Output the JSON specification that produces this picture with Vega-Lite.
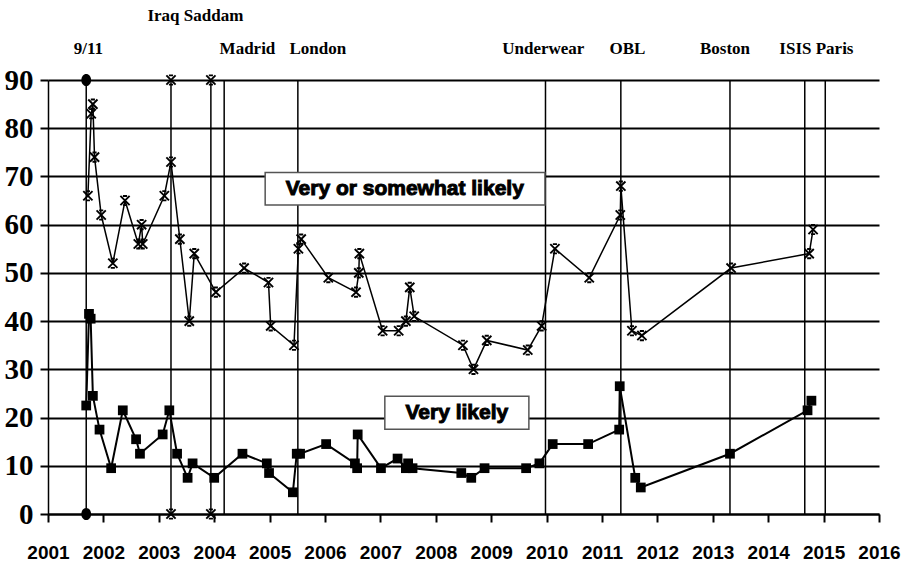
{
  "$schema": "https://vega.github.io/schema/vega-lite/v6.json",
  "width": 831,
  "height": 434,
  "autosize": {"type": "none"},
  "padding": {"left": 48, "top": 80, "right": 23, "bottom": 61},
  "background": "white",
  "config": {"view": {"stroke": null}},
  "datasets": {
    "somewhat": [
      {"seq": 1, "date": 2001.72, "value": 66},
      {"seq": 2, "date": 2001.78, "value": 83},
      {"seq": 3, "date": 2001.81, "value": 85},
      {"seq": 4, "date": 2001.84, "value": 74},
      {"seq": 5, "date": 2001.96, "value": 62},
      {"seq": 6, "date": 2002.17, "value": 52},
      {"seq": 7, "date": 2002.39, "value": 65},
      {"seq": 8, "date": 2002.63, "value": 56},
      {"seq": 9, "date": 2002.69, "value": 60},
      {"seq": 10, "date": 2002.71, "value": 56},
      {"seq": 11, "date": 2003.10, "value": 66},
      {"seq": 12, "date": 2003.22, "value": 73},
      {"seq": 13, "date": 2003.38, "value": 57},
      {"seq": 14, "date": 2003.55, "value": 40},
      {"seq": 15, "date": 2003.64, "value": 54},
      {"seq": 16, "date": 2004.03, "value": 46},
      {"seq": 17, "date": 2004.54, "value": 51},
      {"seq": 18, "date": 2004.98, "value": 48},
      {"seq": 19, "date": 2005.02, "value": 39},
      {"seq": 20, "date": 2005.44, "value": 35},
      {"seq": 21, "date": 2005.52, "value": 55},
      {"seq": 22, "date": 2005.57, "value": 57},
      {"seq": 23, "date": 2006.06, "value": 49},
      {"seq": 24, "date": 2006.56, "value": 46},
      {"seq": 25, "date": 2006.61, "value": 50},
      {"seq": 26, "date": 2006.62, "value": 54},
      {"seq": 27, "date": 2007.04, "value": 38},
      {"seq": 28, "date": 2007.33, "value": 38},
      {"seq": 29, "date": 2007.46, "value": 40},
      {"seq": 30, "date": 2007.53, "value": 47},
      {"seq": 31, "date": 2007.61, "value": 41},
      {"seq": 32, "date": 2008.49, "value": 35},
      {"seq": 33, "date": 2008.68, "value": 30},
      {"seq": 34, "date": 2008.92, "value": 36},
      {"seq": 35, "date": 2009.66, "value": 34},
      {"seq": 36, "date": 2009.91, "value": 39},
      {"seq": 37, "date": 2010.15, "value": 55},
      {"seq": 38, "date": 2010.77, "value": 49},
      {"seq": 39, "date": 2011.33, "value": 62},
      {"seq": 40, "date": 2011.34, "value": 68},
      {"seq": 41, "date": 2011.54, "value": 38},
      {"seq": 42, "date": 2011.72, "value": 37},
      {"seq": 43, "date": 2013.33, "value": 51},
      {"seq": 44, "date": 2014.74, "value": 54},
      {"seq": 45, "date": 2014.81, "value": 59}
    ],
    "very": [
      {"seq": 1, "date": 2001.69, "value": 22.5},
      {"seq": 2, "date": 2001.74, "value": 41.5},
      {"seq": 3, "date": 2001.77, "value": 40.5},
      {"seq": 4, "date": 2001.81, "value": 24.5},
      {"seq": 5, "date": 2001.93, "value": 17.5},
      {"seq": 6, "date": 2002.14, "value": 9.5},
      {"seq": 7, "date": 2002.35, "value": 21.5},
      {"seq": 8, "date": 2002.59, "value": 15.5},
      {"seq": 9, "date": 2002.66, "value": 12.5},
      {"seq": 10, "date": 2003.07, "value": 16.5},
      {"seq": 11, "date": 2003.19, "value": 21.5},
      {"seq": 12, "date": 2003.33, "value": 12.5},
      {"seq": 13, "date": 2003.52, "value": 7.5},
      {"seq": 14, "date": 2003.61, "value": 10.5},
      {"seq": 15, "date": 2004.00, "value": 7.5},
      {"seq": 16, "date": 2004.51, "value": 12.5},
      {"seq": 17, "date": 2004.95, "value": 10.5},
      {"seq": 18, "date": 2004.99, "value": 8.5},
      {"seq": 19, "date": 2005.42, "value": 4.5},
      {"seq": 20, "date": 2005.49, "value": 12.5},
      {"seq": 21, "date": 2005.55, "value": 12.5},
      {"seq": 22, "date": 2006.02, "value": 14.5},
      {"seq": 23, "date": 2006.54, "value": 10.5},
      {"seq": 24, "date": 2006.58, "value": 9.5},
      {"seq": 25, "date": 2006.59, "value": 16.5},
      {"seq": 26, "date": 2007.01, "value": 9.5},
      {"seq": 27, "date": 2007.31, "value": 11.5},
      {"seq": 28, "date": 2007.46, "value": 9.5},
      {"seq": 29, "date": 2007.50, "value": 10.5},
      {"seq": 30, "date": 2007.58, "value": 9.5},
      {"seq": 31, "date": 2008.46, "value": 8.5},
      {"seq": 32, "date": 2008.64, "value": 7.5},
      {"seq": 33, "date": 2008.88, "value": 9.5},
      {"seq": 34, "date": 2009.63, "value": 9.5},
      {"seq": 35, "date": 2009.87, "value": 10.5},
      {"seq": 36, "date": 2010.11, "value": 14.5},
      {"seq": 37, "date": 2010.75, "value": 14.5},
      {"seq": 38, "date": 2011.31, "value": 17.5},
      {"seq": 39, "date": 2011.32, "value": 26.5},
      {"seq": 40, "date": 2011.60, "value": 7.5},
      {"seq": 41, "date": 2011.70, "value": 5.5},
      {"seq": 42, "date": 2013.31, "value": 12.5},
      {"seq": 43, "date": 2014.71, "value": 21.5},
      {"seq": 44, "date": 2014.78, "value": 23.5}
    ],
    "events": [
      {"event": "9/11", "date": 2001.69},
      {"event": "Iraq", "date": 2003.22},
      {"event": "Saddam", "date": 2003.94},
      {"event": "Madrid", "date": 2004.18},
      {"event": "London", "date": 2005.51},
      {"event": "Underwear", "date": 2009.98},
      {"event": "OBL", "date": 2011.34},
      {"event": "Boston", "date": 2013.31},
      {"event": "ISIS", "date": 2014.66},
      {"event": "Paris", "date": 2015.03}
    ],
    "eventMarks": [
      {"kind": "circle", "date": 2001.69, "value": 90},
      {"kind": "circle", "date": 2001.69, "value": 0},
      {"kind": "star", "date": 2003.22, "value": 90},
      {"kind": "star", "date": 2003.22, "value": 0},
      {"kind": "star", "date": 2003.94, "value": 90},
      {"kind": "star", "date": 2003.94, "value": 0}
    ],
    "labels": [
      {"text": "Iraq Saddam", "date": 2003.66, "value": 102.3},
      {"text": "9/11", "date": 2001.73, "value": 95.3},
      {"text": "Madrid", "date": 2004.60, "value": 95.3},
      {"text": "London", "date": 2005.87, "value": 95.3},
      {"text": "Underwear", "date": 2009.94, "value": 95.3},
      {"text": "OBL", "date": 2011.46, "value": 95.3},
      {"text": "Boston", "date": 2013.22, "value": 95.3},
      {"text": "ISIS Paris", "date": 2014.87, "value": 95.3}
    ],
    "boxes": [
      {"text": "Very or somewhat likely", "x1": 2004.92, "x2": 2009.97, "y1": 64.1, "y2": 70.8, "tx": 2007.44, "ty": 67.4},
      {"text": "Very likely", "x1": 2007.08, "x2": 2009.68, "y1": 17.6, "y2": 24.4, "tx": 2008.38, "ty": 21.0}
    ]
  },
  "layer": [
    {
      "data": {"name": "somewhat"},
      "mark": {"type": "line", "color": "black", "strokeWidth": 1.5},
      "encoding": {
        "x": {
          "field": "date", "type": "quantitative",
          "scale": {"domain": [2001, 2016], "nice": false, "zero": false},
          "axis": {
            "title": null, "values": [2001, 2002, 2003, 2004, 2005, 2006, 2007, 2008, 2009, 2010, 2011, 2012, 2013, 2014, 2015, 2016],
            "format": "d", "grid": false,
            "domainColor": "black", "domainWidth": 2,
            "tickColor": "black", "tickWidth": 2, "tickSize": 8,
            "labelFont": "Liberation Sans, Arial, sans-serif",
            "labelFontWeight": "bold", "labelFontSize": 19, "labelColor": "black",
            "labelPadding": 21, "labelFlush": false, "labelOverlap": false
          }
        },
        "y": {
          "field": "value", "type": "quantitative",
          "scale": {"domain": [0, 90], "nice": false, "zero": false},
          "axis": {
            "title": null, "values": [0, 10, 20, 30, 40, 50, 60, 70, 80, 90],
            "grid": true, "gridColor": "black", "gridWidth": 2, "gridOpacity": 1,
            "domainColor": "black", "domainWidth": 1.5,
            "tickColor": "black", "tickWidth": 2, "tickSize": 8,
            "labelFont": "Liberation Serif, Times New Roman, serif",
            "labelFontWeight": "bold", "labelFontSize": 29, "labelColor": "black",
            "labelPadding": 7, "labelFlush": false, "labelOverlap": false
          }
        },
        "order": {"field": "seq"}
      }
    },
    {
      "data": {"name": "events"},
      "mark": {"type": "rule", "color": "black", "strokeWidth": 1.5},
      "encoding": {
        "x": {"field": "date", "type": "quantitative", "scale": {"domain": [2001, 2016], "nice": false, "zero": false}},
        "y": {"datum": 0, "type": "quantitative", "scale": {"domain": [0, 90], "nice": false, "zero": false}},
        "y2": {"datum": 90}
      }
    },
    {
      "data": {"name": "somewhat"},
      "mark": {"type": "point", "shape": "M-1,-1L1,1M-1,1L1,-1M-0.45,-1L0.45,-1M-0.45,1L0.45,1", "filled": false, "stroke": "black", "strokeWidth": 1.9, "size": 85, "opacity": 1},
      "encoding": {
        "x": {"field": "date", "type": "quantitative", "scale": {"domain": [2001, 2016], "nice": false, "zero": false}},
        "y": {"field": "value", "type": "quantitative", "scale": {"domain": [0, 90], "nice": false, "zero": false}}
      }
    },
    {
      "data": {"name": "very"},
      "mark": {"type": "line", "color": "black", "strokeWidth": 2},
      "encoding": {
        "x": {"field": "date", "type": "quantitative", "scale": {"domain": [2001, 2016], "nice": false, "zero": false}},
        "y": {"field": "value", "type": "quantitative", "scale": {"domain": [0, 90], "nice": false, "zero": false}},
        "order": {"field": "seq"}
      }
    },
    {
      "data": {"name": "very"},
      "mark": {"type": "point", "shape": "square", "filled": true, "color": "black", "size": 95, "opacity": 1},
      "encoding": {
        "x": {"field": "date", "type": "quantitative", "scale": {"domain": [2001, 2016], "nice": false, "zero": false}},
        "y": {"field": "value", "type": "quantitative", "scale": {"domain": [0, 90], "nice": false, "zero": false}}
      }
    },
    {
      "data": {"name": "eventMarks"},
      "transform": [{"filter": "datum.kind === 'circle'"}],
      "mark": {"type": "point", "shape": "M-0.8,0A0.8,1,0,1,0,0.8,0A0.8,1,0,1,0,-0.8,0Z", "filled": true, "color": "black", "size": 150, "opacity": 1},
      "encoding": {
        "x": {"field": "date", "type": "quantitative", "scale": {"domain": [2001, 2016], "nice": false, "zero": false}},
        "y": {"field": "value", "type": "quantitative", "scale": {"domain": [0, 90], "nice": false, "zero": false}}
      }
    },
    {
      "data": {"name": "eventMarks"},
      "transform": [{"filter": "datum.kind === 'star'"}],
      "mark": {"type": "point", "shape": "M-1,-1L1,1M-1,1L1,-1M-0.45,-1L0.45,-1M-0.45,1L0.45,1", "filled": false, "stroke": "black", "strokeWidth": 1.9, "size": 85, "opacity": 1},
      "encoding": {
        "x": {"field": "date", "type": "quantitative", "scale": {"domain": [2001, 2016], "nice": false, "zero": false}},
        "y": {"field": "value", "type": "quantitative", "scale": {"domain": [0, 90], "nice": false, "zero": false}}
      }
    },
    {
      "data": {"name": "labels"},
      "mark": {"type": "text", "font": "Liberation Serif, Times New Roman, serif", "fontWeight": "bold", "fontSize": 17, "align": "center", "baseline": "alphabetic", "color": "black"},
      "encoding": {
        "x": {"field": "date", "type": "quantitative", "scale": {"domain": [2001, 2016], "nice": false, "zero": false}},
        "y": {"field": "value", "type": "quantitative", "scale": {"domain": [0, 90], "nice": false, "zero": false}},
        "text": {"field": "text"}
      }
    },
    {
      "data": {"name": "boxes"},
      "mark": {"type": "rect", "fill": "white", "stroke": "#555555", "strokeWidth": 1.5},
      "encoding": {
        "x": {"field": "x1", "type": "quantitative", "scale": {"domain": [2001, 2016], "nice": false, "zero": false}},
        "x2": {"field": "x2"},
        "y": {"field": "y1", "type": "quantitative", "scale": {"domain": [0, 90], "nice": false, "zero": false}},
        "y2": {"field": "y2"}
      }
    },
    {
      "data": {"name": "boxes"},
      "mark": {"type": "text", "font": "Liberation Sans, Arial, sans-serif", "fontWeight": "bold", "fontSize": 21, "stroke": "black", "strokeWidth": 1, "align": "center", "baseline": "middle", "color": "black"},
      "encoding": {
        "x": {"field": "tx", "type": "quantitative", "scale": {"domain": [2001, 2016], "nice": false, "zero": false}},
        "y": {"field": "ty", "type": "quantitative", "scale": {"domain": [0, 90], "nice": false, "zero": false}},
        "text": {"field": "text"}
      }
    }
  ]
}
